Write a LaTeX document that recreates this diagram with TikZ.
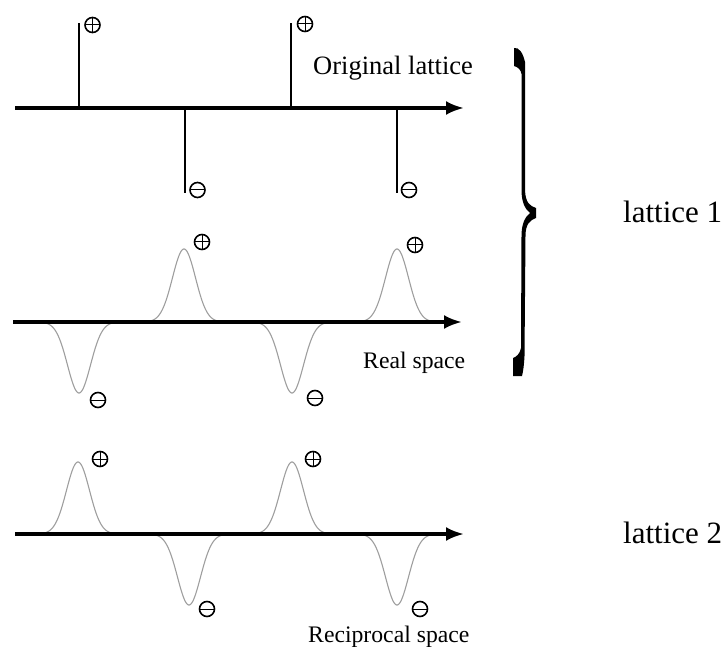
\documentclass[tikz,border=0pt]{standalone}
\usepackage{fontspec}
\setmainfont{Liberation Serif}
\usetikzlibrary{arrows.meta}
\tikzset{
  axisline/.style={line width=3.4, -{Latex[length=18,width=14]}},
  stem/.style={line width=2.2},
  gauss/.style={line width=1.1, color=black!38},
  sgn/.style={circle, draw, line width=1.6, minimum size=15, inner sep=0pt},
  pl/.style={sgn, path picture={\draw[line width=1]
      (path picture bounding box.north) -- (path picture bounding box.south)
      (path picture bounding box.west) -- (path picture bounding box.east);}},
  mn/.style={sgn, path picture={\draw[line width=1]
      (path picture bounding box.west) -- (path picture bounding box.east);}},
  lbl/.style={anchor=base west, inner sep=0pt},
}
\begin{document}
\begin{tikzpicture}[x=1pt,y=-1pt]
\useasboundingbox (0,0) rectangle (726,647);

% ---------- original lattice ----------
\coordinate (a1s) at (15,108);
\coordinate (a1e) at (464,108);
\draw[axisline] (a1s) -- (a1e);
\coordinate (s1b) at (79,108);  \coordinate (s1t) at (79,23);
\coordinate (s2b) at (185,108); \coordinate (s2t) at (185,193);
\coordinate (s3b) at (291,108); \coordinate (s3t) at (291,23);
\coordinate (s4b) at (397,108); \coordinate (s4t) at (397,193);
\draw[stem] (s1b) -- (s1t);
\draw[stem] (s2b) -- (s2t);
\draw[stem] (s3b) -- (s3t);
\draw[stem] (s4b) -- (s4t);
\node[pl] (p1) at (92.5,25) {};
\node[mn] (m1) at (197.5,190) {};
\node[pl] (p2) at (305,24) {};
\node[mn] (m2) at (409,190) {};
\node[lbl, font=\fontsize{26.5}{30}\selectfont] (orig) at (313,75) {Original lattice};

% ---------- real space ----------
\coordinate (a2s) at (13,322);
\coordinate (a2e) at (462,322);
\draw[gauss] plot[domain=-36:36, samples=80] ({79+\x},  {322+71*exp(-(\x/11.5)*(\x/11.5)/2)});
\draw[gauss] plot[domain=-36:36, samples=80] ({184+\x}, {322-73*exp(-(\x/11.5)*(\x/11.5)/2)});
\draw[gauss] plot[domain=-36:36, samples=80] ({292+\x}, {322+71*exp(-(\x/11.5)*(\x/11.5)/2)});
\draw[gauss] plot[domain=-36:36, samples=80] ({397+\x}, {322-73*exp(-(\x/11.5)*(\x/11.5)/2)});
\draw[axisline] (a2s) -- (a2e);
\node[mn] (m3) at (98,400) {};
\node[pl] (p3) at (202,242) {};
\node[mn] (m4) at (315,398) {};
\node[pl] (p4) at (415,245) {};
\node[lbl, font=\fontsize{23.7}{27}\selectfont] (real) at (363,368) {Real space};

% ---------- reciprocal space ----------
\coordinate (a3s) at (15,534);
\coordinate (a3e) at (464,534);
\draw[gauss] plot[domain=-36:36, samples=80] ({78+\x},  {534-72*exp(-(\x/11.5)*(\x/11.5)/2)});
\draw[gauss] plot[domain=-36:36, samples=80] ({189+\x}, {534+71*exp(-(\x/11.5)*(\x/11.5)/2)});
\draw[gauss] plot[domain=-36:36, samples=80] ({292+\x}, {534-72*exp(-(\x/11.5)*(\x/11.5)/2)});
\draw[gauss] plot[domain=-36:36, samples=80] ({397+\x}, {534+71*exp(-(\x/11.5)*(\x/11.5)/2)});
\draw[axisline] (a3s) -- (a3e);
\node[pl] (p5) at (100,459) {};
\node[mn] (m5) at (207,609) {};
\node[pl] (p6) at (313,459) {};
\node[mn] (m6) at (420,609) {};
\node[lbl, font=\fontsize{23.7}{27}\selectfont] (recip) at (308,642) {Reciprocal space};

% ---------- brace ----------
\fill (514,48) .. controls (519,47) and (523,53) .. (525,62)
  -- (525,190) .. controls (525.5,203) and (530,206) .. (536,208)
  -- (536,218) .. controls (530,220) and (525.5,224) .. (525.5,236)
  -- (524.5,356) .. controls (524,366) and (523,372) .. (522,376)
  -- (513,376) -- (513,358) .. controls (516,357) and (520,354) .. (521,348)
  -- (521.5,236) .. controls (521.5,224) and (525,217) .. (530,213)
  .. controls (525,209) and (521.5,202) .. (521.5,190)
  -- (521.5,74) .. controls (521,70) and (518,67) .. (514,66) -- cycle;
\node[lbl, font=\fontsize{31}{35}\selectfont] (lat1) at (623,223) {lattice 1};
\node[lbl, font=\fontsize{31}{35}\selectfont] (lat2) at (623,543) {lattice 2};
\end{tikzpicture}
\end{document}
